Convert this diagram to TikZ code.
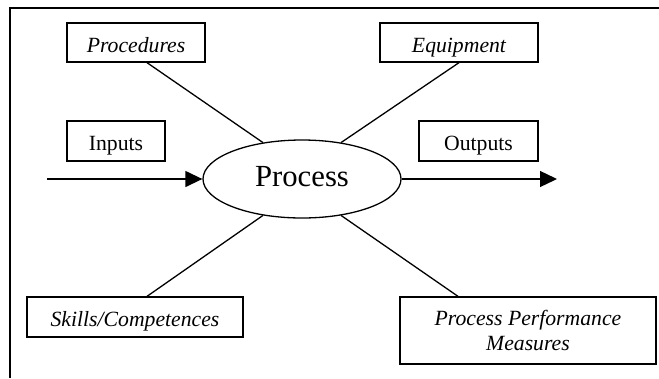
\documentclass[tikz,border=0pt]{standalone}
\usepackage{fontspec}
\setmainfont{Liberation Serif}
\usetikzlibrary{shapes.geometric,arrows.meta,calc}
\begin{document}
\begin{tikzpicture}[x=1bp,y=-1bp,
  box/.style={draw,line width=1.3bp,inner sep=0pt,align=center,
    font=\fontsize{21.7bp}{25bp}\selectfont},
  onerow/.style={box,text height=19bp,text depth=0pt},
  link/.style={line width=1.3bp},
  flow/.style={line width=1.3bp,-{Triangle[length=17bp,width=16bp]}}]
\useasboundingbox (0,0) rectangle (659,378);
% frame (top and left edges)
\draw[line width=1.5bp] (10,378) -- (10,8) -- (659,8);

% central process
\node[draw,ellipse,line width=1.3bp,minimum width=198bp,minimum height=78bp,
  inner sep=0pt,text height=15.4bp,text depth=0pt,
  font=\fontsize{30.7bp}{36bp}\selectfont] (process) at (302,179) {Process};

% surrounding boxes
\node[onerow,minimum width=138bp,minimum height=39bp] (proc) at (136,42.5) {\itshape Procedures};
\node[onerow,minimum width=158bp,minimum height=39bp] (equip) at (459,42.5) {\itshape Equipment};
\node[onerow,minimum width=98bp,minimum height=40bp] (inputs) at (116,141) {Inputs};
\node[onerow,minimum width=119bp,minimum height=40bp] (outputs) at (478.5,141) {Outputs};
\node[onerow,minimum width=216bp,minimum height=40bp] (skills) at (135,317) {\itshape Skills/Competences};
\node[box,minimum width=256bp,minimum height=67bp] (ppm) at (528,330.5)
  {\itshape Process Performance\\\itshape Measures};

% flow in and out
\coordinate (inStart) at (47,179);
\coordinate (outEnd) at (557,179);
\draw[flow] (inStart) -- (process.west);
\draw[flow] (process.east) -- (outEnd);

% links to the process
\draw[link] ($(proc.south)+(11,0)$) -- (process.137);
\draw[link] (equip.south) -- (process.43.5);
\draw[link] ($(skills.north)+(12,0)$) -- (process.-137);
\draw[link] ($(ppm.north)+(-70,0)$) -- (process.-43);
\end{tikzpicture}
\end{document}
